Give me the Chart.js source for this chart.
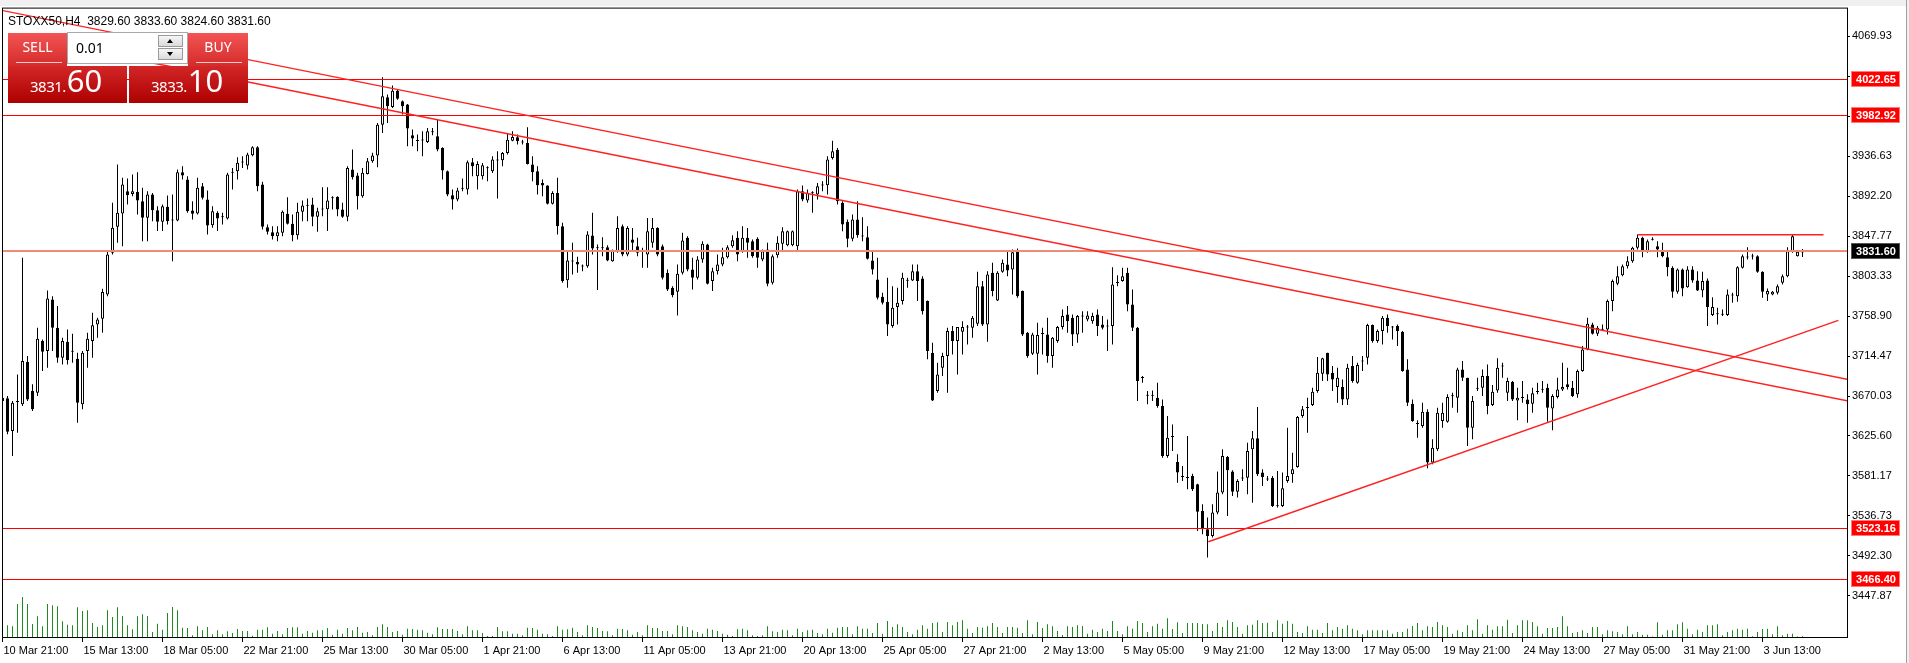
<!DOCTYPE html>
<html>
<head>
<meta charset="utf-8">
<title>STOXX50,H4</title>
<script src="https://cdn.jsdelivr.net/npm/chart.js@4.4.1/dist/chart.umd.min.js"></script>
<style>
  html, body { margin: 0; padding: 0; background: #f0f0f0; }
  #wrap { position: relative; width: 1909px; height: 663px; overflow: hidden; }
  #chart { position: absolute; left: 0; top: 0; }
  .hdr { position: absolute; left: 8px; top: 14px; font: 12px "Liberation Sans", Arial, sans-serif; line-height: 14px; white-space: pre; color: #000; }
  .part { position: absolute; }
  .top { background: linear-gradient(#f35454, #d52b2b); }
  .bot { background: linear-gradient(#d32626, #ad0000); }
  .lbl { position: absolute; left: 0; right: 0; top: 5px; text-align: center; color: #fff; font: 14px "Noto Sans", sans-serif; line-height: 18px; }
  .uline { position: absolute; left: 8px; right: 5px; top: 29px; height: 1px; background: rgba(255,255,255,.75); }
  .px { position: absolute; color: #fff; font-family: "Noto Sans", sans-serif; white-space: nowrap; line-height: 1; display: flex; align-items: baseline; }
  .px .s { font-size: 15px; letter-spacing: -0.5px; }
  .px .b { font-size: 31px; margin-left: 1px; }
  .lot { position: absolute; left: 67px; top: 32px; width: 119px; height: 30px; background: #fff; border: 1px solid #a8a8a8; }
  .lot span { position: absolute; left: 8px; top: 6px; font: 14px "Noto Sans", sans-serif; line-height: 18px; color: #000; }
  .spin { position: absolute; left: 90px; width: 23px; height: 10px; border: 1px solid #9a9a9a; background: linear-gradient(#f6f6f6, #dadada); }
  .spin i { position: absolute; left: 8px; top: 3px; width: 0; height: 0; border-left: 3.5px solid transparent; border-right: 3.5px solid transparent; }
  .up i { border-bottom: 4px solid #000; }
  .dn i { border-top: 4px solid #000; }
</style>
</head>
<body>
<div id="wrap">
  <canvas id="chart" width="1909" height="663" style="width:1909px;height:663px"></canvas>
  <div class="hdr">STOXX50,H4  3829.60 3833.60 3824.60 3831.60</div>

  <div class="part top" style="left:8px;top:33px;width:59px;height:33px"><div class="lbl">SELL</div><div class="uline"></div></div>
  <div class="part bot" style="left:8px;top:66px;width:119px;height:37px"></div>
  <div class="lot"><span>0.01</span><div class="spin up" style="top:2px"><i></i></div><div class="spin dn" style="top:15px"><i></i></div></div>
  <div class="part top" style="left:188px;top:33px;width:60px;height:33px"><div class="lbl">BUY</div><div class="uline" style="right:6px"></div></div>
  <div class="part bot" style="left:129px;top:66px;width:119px;height:37px"></div>
  <div class="px" style="left:30px;top:65px"><span class="s">3831.</span><span class="b">60</span></div>
  <div class="px" style="left:151px;top:65px"><span class="s">3833.</span><span class="b">10</span></div>
</div>

<script>
// H4 bars, 10 Mar 21:00 .. 3 Jun 2022
const opens = [
3664.5,3667.5,3631.2,3663.8,3660.8,3707.8,3675.6,3673.8,3731.1,3720.0,
3777.4,3746.0,3712.6,3730.4,3720.0,3711.5,3660.8,3720.0,3731.1,3749.7,
3756.0,3783.0,3829.3,3858.2,3873.0,3897.8,3894.8,3897.0,3886.7,3868.2,
3894.1,3876.7,3863.7,3880.4,3865.2,3865.2,3918.9,3910.7,3876.3,3873.0,
3903.3,3888.5,3860.0,3873.7,3868.9,3867.4,3918.2,3920.0,3929.6,3926.3,
3937.8,3946.7,3905.2,3857.8,3852.2,3847.8,3851.5,3872.6,3861.5,3848.9,
3874.8,3881.5,3883.0,3869.3,3877.4,3877.8,3890.0,3891.5,3877.4,3869.3,
3921.9,3915.2,3892.2,3917.0,3931.1,3937.4,3971.8,4002.2,3991.5,4009.6,
3997.8,3994.1,3960.0,3954.4,3954.1,3952.6,3963.3,3958.9,3945.9,3920.0,
3893.3,3888.5,3900.4,3899.6,3930.0,3914.4,3914.4,3923.3,3920.0,3931.8,
3932.2,3940.3,3954.0,3957.7,3952.6,3951.5,3927.4,3920.0,3907.0,3904.0,
3883.7,3895.9,3858.9,3798.9,3819.6,3819.3,3814.1,3814.4,3848.5,3834.4,
3834.4,3835.5,3820.0,3831.1,3858.9,3827.4,3844.1,3836.7,3830.7,3827.4,
3840.4,3857.0,3836.7,3807.0,3790.4,3785.9,3807.0,3845.9,3810.7,3801.5,
3821.8,3838.5,3797.8,3808.9,3816.3,3824.4,3836.7,3845.9,3831.1,3845.9,
3842.2,3844.8,3821.8,3832.9,3795.9,3826.7,3839.3,3837.8,3837.8,3836.7,
3897.8,3887.4,3895.5,3894.1,3904.0,3904.4,3934.8,3944.0,3884.8,3863.7,
3844.8,3866.3,3847.4,3846.7,3820.7,3799.6,3780.4,3774.8,3747.8,3768.9,
3775.6,3798.2,3798.5,3808.9,3800.7,3775.6,3718.2,3675.6,3701.5,3714.5,
3742.2,3731.1,3741.5,3746.3,3745.9,3750.4,3792.2,3749.6,3807.0,3776.3,
3808.1,3816.3,3810.7,3831.1,3786.7,3740.4,3717.0,3717.0,3738.9,3738.5,
3714.5,3731.1,3746.7,3760.7,3757.0,3738.5,3758.5,3755.2,3753.3,3760.7,
3749.6,3747.4,3747.8,3795.6,3797.8,3807.0,3771.8,3745.9,3690.8,3671.1,
3670.4,3668.2,3658.9,3603.4,3624.5,3596.7,3580.8,3579.7,3581.2,3571.9,
3542.3,3521.9,3514.5,3540.4,3562.7,3602.3,3586.0,3563.7,3578.2,3579.3,
3610.8,3623.0,3584.9,3577.8,3579.3,3548.2,3547.8,3575.6,3583.0,3591.2,
3647.8,3656.7,3660.0,3675.6,3694.8,3718.2,3695.9,3680.0,3680.0,3666.3,
3703.3,3684.8,3708.5,3712.6,3748.9,3731.1,3742.2,3757.0,3747.0,3747.8,
3741.5,3699.6,3661.5,3639.7,3636.7,3652.6,3596.0,3610.8,3642.3,3641.5,
3669.7,3668.2,3699.6,3690.4,3634.9,3678.2,3679.3,3692.3,3660.0,3676.3,
3703.0,3673.7,3685.9,3665.2,3667.8,3666.3,3661.5,3674.5,3677.1,3679.3,
3656.3,3668.9,3677.4,3683.0,3679.3,3671.9,3697.8,3721.9,3749.6,3739.3,
3743.7,3744.1,3775.6,3794.8,3804.4,3814.4,3820.0,3834.8,3845.9,3831.1,
3843.7,3836.7,3831.1,3824.4,3812.6,3785.9,3810.7,3791.1,3810.7,3798.5,
3787.4,3798.5,3760.0,3761.1,3760.4,3760.0,3781.9,3781.1,3812.6,3824.1,
3825.2,3825.5,3808.1,3783.0,3783.0,3784.8,3795.9,3803.3,3831.1,3825.5,
3829.6];

const highs = [
3670.0,3670.0,3664.5,3694.1,3823.7,3714.5,3683.0,3746.0,3733.0,3787.4,
3781.1,3770.0,3734.8,3744.1,3739.3,3718.2,3720.0,3740.4,3762.6,3757.1,
3789.3,3831.1,3884.8,3927.4,3912.6,3911.9,3916.3,3918.9,3901.5,3897.8,
3895.9,3881.1,3883.0,3893.0,3894.1,3921.9,3925.6,3914.4,3886.7,3912.6,
3907.0,3898.5,3881.1,3875.6,3873.7,3918.2,3923.7,3935.6,3936.7,3940.4,
3947.8,3947.8,3908.2,3860.8,3858.9,3858.9,3876.3,3891.1,3871.9,3884.8,
3887.4,3889.6,3890.4,3879.3,3902.2,3902.2,3892.2,3892.2,3884.8,3925.6,
3944.1,3918.2,3923.7,3934.8,3940.4,3973.7,4024.4,4005.2,4015.2,4010.7,
3998.5,3994.8,3966.3,3960.7,3964.4,3968.1,3968.1,3977.4,3946.7,3920.7,
3899.6,3901.5,3911.8,3931.8,3934.8,3931.1,3929.2,3925.5,3936.6,3942.2,
3941.4,3962.6,3964.4,3960.7,3955.1,3968.8,3936.6,3925.5,3910.7,3904.4,
3897.8,3912.6,3862.6,3831.1,3840.4,3824.8,3816.3,3853.3,3873.7,3838.5,
3846.7,3837.8,3832.9,3870.0,3860.7,3858.9,3857.0,3845.9,3834.8,3868.1,
3868.1,3857.8,3838.5,3810.7,3792.2,3816.3,3851.5,3847.8,3823.7,3825.5,
3842.2,3839.3,3812.6,3827.4,3834.8,3837.8,3848.9,3853.3,3858.9,3857.0,
3844.1,3846.7,3832.9,3840.4,3827.4,3847.8,3857.8,3854.1,3854.1,3899.6,
3904.0,3899.6,3897.8,3907.0,3908.9,3936.6,3954.0,3945.9,3886.6,3866.3,
3871.8,3886.6,3868.9,3858.9,3831.8,3823.7,3784.8,3801.5,3792.2,3790.4,
3807.0,3801.5,3816.3,3816.3,3803.3,3776.3,3729.3,3707.0,3718.2,3745.9,
3747.8,3746.7,3753.3,3748.9,3758.9,3808.1,3797.8,3808.9,3818.1,3808.9,
3821.8,3831.1,3833.0,3834.0,3787.4,3741.1,3740.4,3751.5,3745.9,3757.0,
3735.6,3747.8,3766.3,3770.0,3760.7,3760.0,3764.4,3764.4,3762.6,3766.3,
3758.9,3755.2,3813.3,3804.4,3812.6,3812.6,3788.5,3746.7,3692.2,3675.6,
3676.3,3684.8,3666.3,3647.8,3638.5,3605.2,3592.3,3625.6,3583.7,3572.6,
3549.7,3534.9,3549.7,3586.0,3610.8,3603.4,3587.4,3577.5,3588.6,3618.2,
3631.2,3657.8,3588.6,3581.2,3581.2,3586.7,3584.9,3634.8,3607.1,3647.8,
3658.9,3668.2,3679.3,3713.3,3712.6,3718.2,3703.3,3701.5,3688.5,3705.9,
3714.5,3707.0,3714.5,3750.4,3749.6,3744.1,3758.9,3760.7,3747.8,3749.6,
3742.2,3710.8,3666.3,3643.0,3662.6,3655.2,3621.9,3657.1,3662.6,3671.9,
3673.7,3701.5,3708.9,3690.4,3670.0,3690.4,3699.6,3705.2,3682.2,3711.9,
3707.1,3690.4,3686.7,3679.3,3686.7,3671.9,3679.3,3684.8,3686.7,3683.7,
3671.9,3690.4,3707.1,3701.5,3686.7,3699.6,3725.6,3757.0,3751.5,3747.8,
3749.6,3777.4,3799.6,3814.4,3816.3,3825.5,3835.9,3849.6,3847.0,3844.1,
3846.7,3842.2,3840.4,3831.1,3814.4,3811.8,3811.8,3814.4,3814.4,3808.9,
3808.1,3800.7,3780.0,3768.1,3766.3,3788.5,3784.8,3814.4,3827.4,3835.5,
3828.1,3826.7,3808.9,3789.6,3786.7,3794.1,3805.2,3835.5,3849.6,3831.1,
3833.6];

const lows = [
3662.6,3627.5,3603.4,3629.3,3658.9,3664.5,3653.4,3670.0,3697.8,3701.5,
3720.0,3707.1,3705.2,3705.2,3707.1,3640.4,3655.2,3701.5,3712.6,3734.8,
3740.4,3781.1,3827.4,3840.4,3836.7,3883.0,3892.2,3871.9,3842.2,3842.2,
3864.5,3853.4,3853.4,3860.8,3820.0,3864.5,3910.7,3873.7,3866.3,3871.9,
3888.5,3849.6,3857.1,3853.4,3860.8,3866.3,3899.6,3910.7,3923.7,3921.9,
3936.7,3897.8,3855.2,3849.6,3844.1,3842.2,3847.8,3860.8,3842.2,3844.1,
3864.5,3864.5,3858.9,3852.6,3870.0,3853.4,3877.4,3870.0,3868.2,3864.5,
3910.7,3877.4,3890.4,3916.3,3929.3,3924.4,3962.6,3973.7,3990.4,3999.6,
3983.0,3947.8,3947.8,3942.2,3936.7,3951.5,3960.0,3942.2,3910.7,3892.2,
3877.4,3886.7,3897.8,3894.1,3914.4,3899.6,3910.7,3908.9,3918.1,3889.6,
3925.5,3938.5,3953.3,3949.6,3949.6,3927.4,3908.9,3894.1,3892.2,3882.9,
3882.9,3849.6,3795.9,3790.4,3805.2,3807.0,3808.9,3812.6,3827.4,3787.8,
3825.5,3820.0,3819.3,3829.3,3825.5,3825.5,3831.1,3825.5,3812.6,3812.6,
3834.8,3825.5,3799.6,3786.7,3780.0,3759.6,3805.2,3808.9,3788.5,3799.6,
3818.1,3794.1,3786.7,3805.2,3814.4,3823.0,3834.8,3820.0,3829.3,3823.7,
3823.7,3812.6,3820.0,3792.2,3794.1,3823.7,3831.1,3836.7,3836.7,3831.1,
3886.6,3884.8,3873.7,3888.5,3897.8,3894.1,3932.9,3882.9,3853.3,3835.5,
3842.2,3845.9,3842.2,3821.8,3805.2,3777.4,3771.8,3736.7,3745.9,3749.6,
3771.8,3790.4,3797.8,3775.6,3760.7,3710.8,3664.5,3673.7,3692.2,3673.7,
3716.3,3694.1,3716.3,3727.4,3734.8,3747.8,3747.8,3730.4,3781.1,3775.6,
3807.0,3803.3,3782.9,3779.3,3736.7,3712.6,3715.6,3694.1,3716.3,3707.0,
3701.5,3729.3,3744.1,3740.4,3725.6,3729.3,3740.4,3753.3,3750.4,3736.7,
3744.1,3720.0,3727.4,3792.2,3797.0,3764.4,3742.2,3664.5,3684.8,3660.8,
3664.5,3657.1,3601.5,3601.5,3608.9,3573.7,3575.6,3566.3,3564.5,3520.0,
3516.4,3490.4,3512.7,3538.6,3560.8,3536.7,3558.9,3557.1,3575.6,3560.8,
3551.5,3581.2,3570.0,3575.6,3546.7,3546.0,3546.7,3573.7,3573.7,3590.4,
3645.9,3629.3,3658.9,3673.7,3686.7,3686.7,3675.6,3662.6,3660.0,3660.0,
3684.8,3683.7,3697.8,3705.2,3729.3,3729.3,3727.4,3740.4,3733.0,3725.6,
3697.1,3658.9,3641.5,3623.7,3634.9,3589.7,3594.1,3608.9,3634.9,3640.4,
3657.1,3651.5,3686.7,3614.5,3621.9,3675.6,3670.0,3649.7,3658.9,3673.7,
3690.4,3664.5,3664.5,3643.0,3662.6,3640.4,3651.5,3671.9,3673.7,3641.5,
3631.9,3667.4,3675.6,3677.4,3668.9,3668.2,3697.1,3720.8,3738.5,3736.7,
3742.2,3738.5,3764.4,3793.3,3803.3,3811.9,3818.1,3833.0,3824.4,3829.3,
3843.0,3824.4,3824.4,3803.3,3779.3,3783.7,3781.1,3790.4,3795.9,3786.7,
3780.0,3747.8,3758.9,3749.6,3758.9,3758.9,3773.7,3774.8,3811.8,3821.9,
3821.9,3807.0,3779.3,3775.6,3782.2,3783.0,3794.1,3802.2,3829.3,3825.2,
3824.6];

const closes = [
3668.2,3630.4,3662.6,3663.5,3708.9,3666.3,3655.2,3733.7,3719.3,3778.5,
3746.0,3712.6,3731.1,3710.0,3719.3,3662.6,3718.2,3733.7,3748.6,3755.2,
3785.6,3827.4,3857.1,3873.7,3905.2,3893.3,3897.8,3887.4,3868.2,3894.1,
3876.7,3863.7,3881.1,3864.5,3865.6,3918.9,3915.2,3875.6,3872.6,3901.5,
3890.4,3859.6,3875.6,3867.4,3869.3,3916.3,3919.3,3929.3,3930.4,3938.5,
3946.7,3903.3,3858.2,3852.6,3847.8,3852.2,3874.8,3861.5,3848.9,3874.8,
3881.9,3882.2,3869.3,3875.6,3878.2,3887.4,3890.7,3877.4,3869.3,3923.7,
3913.3,3892.2,3918.2,3931.1,3937.4,3971.8,4003.3,3992.2,4009.6,4000.7,
3992.2,3967.4,3956.3,3953.7,3954.4,3964.4,3964.1,3944.1,3920.7,3894.1,
3888.5,3898.5,3901.1,3930.0,3925.5,3928.1,3926.6,3924.0,3932.9,3932.6,
3940.3,3955.1,3958.1,3953.3,3951.8,3928.1,3918.9,3904.4,3904.0,3883.7,
3895.9,3858.9,3797.8,3820.7,3820.4,3816.3,3814.8,3849.6,3834.1,3835.2,
3835.2,3820.7,3831.8,3857.0,3827.4,3857.0,3840.4,3829.3,3831.5,3853.3,
3857.0,3827.4,3801.5,3788.5,3782.2,3805.9,3842.9,3810.7,3801.5,3821.8,
3839.3,3794.8,3808.9,3816.3,3824.4,3835.5,3843.3,3827.4,3845.9,3840.4,
3825.5,3823.7,3831.1,3794.8,3825.5,3840.4,3853.3,3853.3,3853.3,3897.8,
3888.5,3895.9,3896.3,3903.3,3904.8,3932.9,3942.2,3886.6,3860.7,3844.8,
3866.3,3848.9,3848.1,3822.6,3810.7,3779.3,3773.7,3749.6,3768.1,3773.7,
3801.5,3798.9,3808.9,3797.8,3764.4,3720.0,3665.2,3694.1,3714.5,3742.2,
3731.1,3746.7,3746.7,3747.0,3757.0,3792.2,3749.6,3805.2,3786.7,3807.0,
3818.1,3809.6,3830.0,3781.1,3738.5,3714.5,3738.5,3737.8,3739.6,3714.5,
3734.8,3746.7,3758.9,3753.3,3738.5,3758.9,3759.3,3759.6,3758.9,3747.8,
3745.9,3748.1,3794.1,3796.3,3803.3,3771.8,3745.9,3686.7,3690.0,3670.4,
3671.1,3658.9,3603.4,3623.7,3625.2,3584.9,3580.0,3579.0,3566.3,3541.5,
3521.9,3514.5,3540.4,3562.7,3603.4,3587.4,3563.7,3575.6,3579.0,3608.9,
3623.0,3583.0,3580.0,3577.1,3547.8,3547.5,3567.5,3581.2,3588.6,3646.7,
3655.2,3657.4,3674.8,3695.9,3711.9,3694.1,3688.5,3690.4,3666.3,3701.5,
3686.7,3704.5,3709.3,3748.9,3731.1,3742.2,3757.0,3747.8,3746.3,3742.2,
3697.8,3662.6,3642.3,3638.9,3652.6,3596.0,3612.6,3651.5,3651.5,3668.9,
3670.4,3699.6,3690.4,3634.9,3664.5,3678.9,3692.3,3658.9,3674.8,3701.5,
3703.7,3686.7,3666.3,3668.2,3668.5,3660.8,3673.0,3675.2,3677.8,3657.1,
3670.0,3677.4,3680.0,3680.0,3670.0,3697.8,3721.9,3750.4,3739.3,3745.9,
3744.5,3775.6,3797.8,3803.3,3814.4,3820.0,3834.8,3845.9,3831.1,3842.2,
3844.4,3833.0,3825.5,3813.3,3785.9,3810.7,3789.6,3810.7,3798.5,3787.4,
3797.8,3768.9,3768.9,3761.9,3761.1,3783.0,3782.6,3813.3,3825.5,3824.8,
3825.9,3808.1,3785.9,3786.7,3785.9,3792.2,3803.3,3831.1,3847.8,3830.4,
3831.6];

// tick volume (relative units)
const volumes = [
120,117,107,330,400,330,130,207,107,330,
317,307,157,123,117,297,260,267,140,100,
117,267,200,297,210,117,77,207,227,210,
50,133,73,240,300,267,93,90,17,107,
67,100,27,67,27,57,40,80,60,60,
13,73,73,97,33,60,27,90,97,97,
33,60,43,67,67,90,23,73,33,90,
67,100,43,50,17,100,127,100,50,60,
23,83,80,73,67,43,27,97,80,80,
80,60,27,107,67,67,40,10,10,100,
57,57,33,33,17,93,90,73,33,27,
10,107,73,77,93,50,17,117,100,90,
60,57,17,83,80,67,23,50,17,117,
90,90,60,60,27,117,107,100,67,50,
33,83,73,60,33,23,10,77,83,67,
17,10,17,107,57,50,73,67,17,83,
50,67,73,40,27,83,43,93,100,100,
27,107,83,83,40,140,33,160,100,127,
100,50,27,73,117,83,140,147,50,150,
117,150,167,83,40,100,93,107,140,100,
40,100,100,93,40,167,27,150,90,127,
107,60,20,107,100,117,110,33,73,50,
83,60,160,60,27,107,83,160,140,50,
107,133,83,187,80,147,40,140,140,140,
130,127,60,140,100,167,150,100,33,117,
123,167,140,143,50,167,133,160,133,50,
40,107,73,73,40,140,67,100,83,117,
83,67,27,67,67,67,67,67,33,50,
50,83,110,140,67,107,100,150,117,100,
33,67,50,117,67,177,33,117,73,107,
107,173,40,117,167,167,150,107,33,90,
90,100,207,107,40,50,67,40,100,100,
27,67,57,50,27,107,27,50,23,23,
5,147,23,67,67,127,147,83,27,73,
50,117,117,127,17,50,67,83,73,83,
7,50,80,83,27,107,17,33,33,5,
7];

const timeLabels = ['10 Mar 21:00','15 Mar 13:00','18 Mar 05:00','22 Mar 21:00','25 Mar 13:00','30 Mar 05:00',
  '1 Apr 21:00','6 Apr 13:00','11 Apr 05:00','13 Apr 21:00','20 Apr 13:00','25 Apr 05:00','27 Apr 21:00',
  '2 May 13:00','5 May 05:00','9 May 21:00','12 May 13:00','17 May 05:00','19 May 21:00','24 May 13:00',
  '27 May 05:00','31 May 21:00','3 Jun 13:00'];
const labelStep = 16;

const priceTicks = [4069.93,4025.50,3981.07,3936.63,3892.20,3847.77,3803.33,3758.90,3714.47,3670.03,3625.60,3581.17,3536.73,3492.30,3447.87];

// horizontal levels and trend lines [bar1, price1, bar2, price2]
const levelLines = [4022.65, 3982.92, 3523.16, 3466.40];
const bidPrice = 3831.60;
const trendLines = [
  [0.04, 4098.6, 369.1, 3688.4],
  [15.5, 4056.4, 369.1, 3664.6],
  [241.16, 3508.0, 367.16, 3754.2],
  [327, 3849.4, 364.2, 3849.4]
];

const bars = opens.map((o, i) => i);

const drawExtras = {
  id: 'drawExtras',
  beforeDraw(chart){
    const c = chart.ctx;
    c.save();
    c.fillStyle = '#fff';
    c.fillRect(0, 0, chart.width, chart.height);
    c.fillStyle = '#f0f0f0';
    c.fillRect(0, 0, chart.width, 6);
    c.fillRect(1907, 0, 2, chart.height);
    c.fillStyle = '#a0a0a0';
    c.fillRect(1906, 0, 1, chart.height);
    c.restore();
  },
  afterDatasetsDraw(chart){
    const c = chart.ctx, a = chart.chartArea, xs = chart.scales.x, ys = chart.scales.y;
    c.save();
    c.beginPath();
    c.rect(a.left, a.top, a.right - a.left, a.bottom - a.top);
    c.clip();
    c.fillStyle = '#ff0000';
    levelLines.forEach(p =>{
      c.fillRect(a.left, Math.round(ys.getPixelForValue(p)), a.right - a.left, 1);
    });
    c.fillStyle = '#ef8c78';
    c.fillRect(a.left, Math.round(ys.getPixelForValue(bidPrice)) - 1, a.right - a.left, 2);
    c.strokeStyle = '#ff2020';
    c.lineWidth = 1.4;
    trendLines.forEach(t =>{
      c.beginPath();
      c.moveTo(xs.getPixelForValue(t[0]), ys.getPixelForValue(t[1]));
      c.lineTo(xs.getPixelForValue(t[2]), ys.getPixelForValue(t[3]));
      c.stroke();
    });
    c.restore();
  },
  afterDraw(chart){
    const c = chart.ctx, a = chart.chartArea, ys = chart.scales.y;
    c.save();
    c.strokeStyle = '#000';
    c.lineWidth = 1;
    c.strokeRect(a.left - 0.5, a.top - 0.5, a.right - a.left + 1, a.bottom - a.top + 1);

    const box = (p, fill, edge) =>{
      const y = Math.round(ys.getPixelForValue(p));
      c.fillStyle = fill;
      c.fillRect(1851, y - 8, 49, 16);
      c.strokeStyle = edge;
      c.strokeRect(1851.5, y - 7.5, 48, 15);
      c.fillStyle = '#fff';
      c.font = 'bold 11px "Liberation Sans", Arial, sans-serif';
      c.textAlign = 'center';
      c.textBaseline = 'middle';
      c.fillText(p.toFixed(2), 1876, y + 0.5);
    };
    levelLines.forEach(p => box(p, '#ff0000', '#ff7a7a'));
    box(bidPrice, '#000', '#555');
    c.restore();
  }
};

const axisFont = { family: 'Liberation Sans', size: 11 };

new Chart(document.getElementById('chart').getContext('2d'), {
  type: 'bar',
  data: {
    datasets: [
      {
        label: 'Volume',
        yAxisID: 'yv',
        data: bars.map(i => ({ x: i, y: volumes[i] })),
        backgroundColor: '#1f8a1f',
        barThickness: 1,
        grouped: false,
        inflateAmount: 0,
        order: 3
      },
      {
        label: 'Wick',
        yAxisID: 'y',
        data: bars.map(i => ({ x: i, y: [lows[i], highs[i]] })),
        backgroundColor: '#000',
        barThickness: 1,
        grouped: false,
        inflateAmount: 0,
        order: 2
      },
      {
        label: 'Body',
        yAxisID: 'y',
        data: bars.map(i => ({ x: i, y: [opens[i], closes[i]] })),
        backgroundColor: bars.map(i => closes[i] >= opens[i] ? '#fff' : '#000'),
        borderColor: '#000',
        borderWidth: 1,
        borderSkipped: false,
        barThickness: 3,
        minBarLength: 1,
        grouped: false,
        inflateAmount: 0,
        order: 1
      }
    ]
  },
  options: {
    responsive: false,
    animation: false,
    devicePixelRatio: 1,
    layout: { padding: { left: 3, top: 8, right: 0, bottom: 0 } },
    plugins: { legend: { display: false }, tooltip: { enabled: false } },
    scales: {
      x: {
        type: 'linear',
        offset: false,
        min: 0.1,
        max: 368.9,
        afterBuildTicks: s =>{ s.ticks = timeLabels.map((t, k) => ({ value: k * labelStep })); },
        afterFit: s =>{ s.height = 26; },
        ticks: {
          callback: v => timeLabels[Math.round(v / labelStep)],
          align: 'start', labelOffset: 1, padding: 2,
          color: '#000', font: axisFont, maxRotation: 0, minRotation: 0, autoSkip: false
        },
        grid: { offset: false, drawOnChartArea: false, tickLength: 5, color: '#000' },
        border: { display: false }
      },
      y: {
        position: 'right',
        min: 3402.10,
        max: 4100.81,
        afterBuildTicks: s =>{ s.ticks = priceTicks.map(v => ({ value: v })); },
        afterFit: s =>{ s.width = 62; },
        ticks: { callback: v => v.toFixed(2), padding: 2, color: '#000', font: axisFont, autoSkip: false },
        grid: { drawOnChartArea: false, tickLength: 3, color: '#000' },
        border: { display: false }
      },
      yv: { display: false, min: 0, max: 6290 }
    }
  },
  plugins: [drawExtras]
});
</script>
</body>
</html>
